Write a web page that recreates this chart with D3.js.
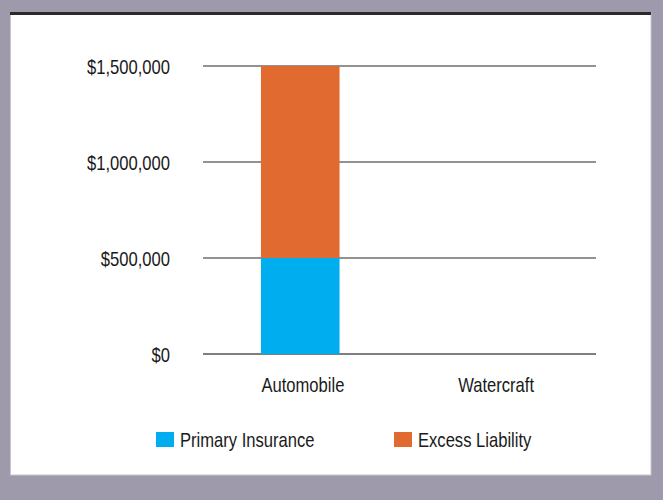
<!DOCTYPE html>
<html>
<head>
<meta charset="utf-8">
<script src="https://cdn.jsdelivr.net/npm/d3@7"></script>
<style>
  html, body { margin: 0; padding: 0; background: #9e9aab; }
  svg { display: block; }
  text { font-family: "Liberation Sans", Arial, sans-serif; fill: #1a1a1a; }
</style>
</head>
<body>
<script>
const categories = ["Automobile", "Watercraft"];
const seriesNames = ["Primary Insurance", "Excess Liability"];
const primaryValues = [500000, 0];
const excessValues = [1000000, 0];
const tickValues = [0, 500000, 1000000, 1500000];
const tickLabels = ["$0", "$500,000", "$1,000,000", "$1,500,000"];
const colors = ["#00adef", "#e06a30"];

const W = 663, H = 500;
const SX = 0.83;
const svg = d3.select("body").append("svg").attr("width", W).attr("height", H);

// background & panel
svg.append("rect").attr("x", 0).attr("y", 0).attr("width", W).attr("height", H).attr("fill", "#9e9aab");
svg.append("rect").attr("x", 10.5).attr("y", 13).attr("width", 640.5).attr("height", 462).attr("fill", "#ffffff").attr("stroke", "#c8c6ce").attr("stroke-width", 1);
svg.append("rect").attr("x", 10).attr("y", 12).attr("width", 641).attr("height", 3).attr("fill", "#2a2a2a");

const x = d3.scaleBand().domain(categories).range([203, 596]).padding(0);
const y = d3.scaleLinear().domain([0, 1500000]).range([354, 66]);

// y axis labels
const yAxis = d3.axisLeft(y).tickValues(tickValues).tickSize(0).tickFormat((d, i) => tickLabels[i]);
const g = svg.append("g").attr("transform", "translate(170,0)").call(yAxis);
g.select(".domain").remove();
g.selectAll("text").attr("x", 0).attr("dy", "0.35em").style("font-size", "20px")
  .style("font-family", '"Liberation Sans", Arial, sans-serif')
  .attr("text-anchor", "end").attr("fill", "#1a1a1a").attr("transform", `scale(${SX},1)`);

// gridlines
svg.append("g").selectAll("line").data(tickValues).join("line")
  .attr("x1", 203).attr("x2", 596)
  .attr("y1", d => y(d)).attr("y2", d => y(d))
  .attr("stroke", d => d === 0 ? "#555" : "#6e6e6e").attr("stroke-width", 1.5);

// stacked bars
const rows = categories.map((c, i) => ({cat: c, primary: primaryValues[i], excess: excessValues[i]}));
const stack = d3.stack().keys(["primary", "excess"])(rows);
const bw = x.bandwidth() * 0.4;
svg.append("g").selectAll("g").data(stack).join("g")
  .attr("fill", (d, i) => colors[i])
  .selectAll("rect").data(d => d).join("rect")
  .attr("x", d => x(d.data.cat) + (x.bandwidth() - bw) / 2 - 1)
  .attr("width", bw)
  .attr("y", d => y(d[1]))
  .attr("height", d => y(d[0]) - y(d[1]));

// x axis labels
const xAxis = d3.axisBottom(x).tickSize(0);
const gx = svg.append("g").attr("transform", "translate(0,354)").call(xAxis);
gx.select(".domain").remove();
gx.selectAll("text").attr("y", 38).attr("dy", 0).style("font-size", "20px")
  .style("font-family", '"Liberation Sans", Arial, sans-serif')
  .attr("fill", "#1a1a1a")
  .attr("x", (d, i) => i === 0 ? 2 : -2)
  .attr("transform", `scale(${SX},1)`);

// legend
const legendX = [156, 394];
const lg = svg.append("g").selectAll("g").data(seriesNames).join("g")
  .attr("transform", (d, i) => `translate(${legendX[i]},432)`);
lg.append("rect").attr("width", 18).attr("height", 15).attr("fill", (d, i) => colors[i]);
lg.append("text").attr("transform", `translate(24,15) scale(${SX},1)`).style("font-size", "20px").text(d => d);
</script>
</body>
</html>
